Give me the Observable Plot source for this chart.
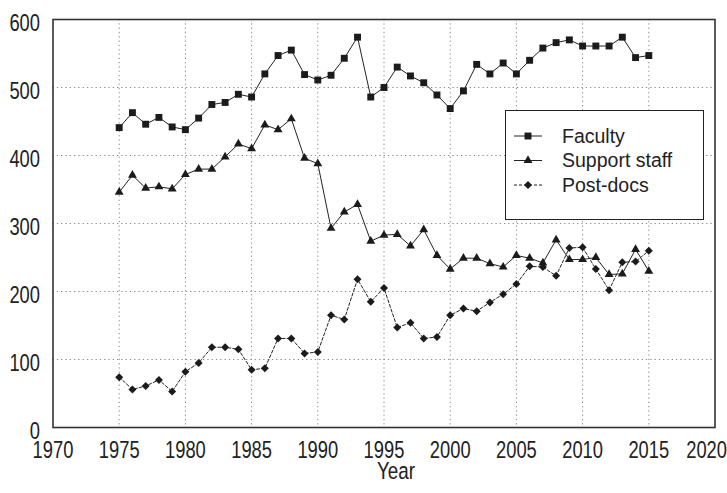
<!DOCTYPE html>
<html><head><meta charset="utf-8">
<script src="https://cdn.jsdelivr.net/npm/d3@7"></script>
<script src="https://cdn.jsdelivr.net/npm/@observablehq/plot@0.6"></script>
<style>
body{margin:0;background:#fff;}
#wrap{position:relative;width:727px;height:493px;}
#legend{position:absolute;left:505px;top:110px;width:197px;height:108px;border:1.5px solid #222;background:#fff;}
</style></head><body><div id="wrap"></div>
<script>
const years = [1975,1976,1977,1978,1979,1980,1981,1982,1983,1984,1985,1986,1987,1988,1989,1990,1991,1992,1993,1994,1995,1996,1997,1998,1999,2000,2001,2002,2003,2004,2005,2006,2007,2008,2009,2010,2011,2012,2013,2014,2015];
const faculty = [441,463,446,456,442,438,455,475,478,490,486,520,547,555,519,511,518,543,574,486,500,530,517,507,489,469,495,534,520,536,520,540,558,566,570,561,561,561,574,544,547];
const support = [346,371,352,354,351,372,380,380,398,417,410,445,438,454,396,388,293,317,328,274,283,284,267,291,253,233,249,249,241,236,253,249,242,276,247,247,250,225,226,262,230];
const postdocs = [74,56,61,70,53,82,95,118,118,115,85,87,131,131,109,111,165,159,218,185,205,147,154,131,133,165,175,171,184,196,211,237,236,223,264,265,233,202,243,244,260];
const seriesNames = ["Faculty","Support staff","Post-docs"];
const xTicks = [1970,1975,1980,1985,1990,1995,2000,2005,2010,2015,2020];
const yTicks = [0,100,200,300,400,500,600];

const seriesValues = [faculty, support, postdocs];
const symbols = ["square","triangle","diamond2"];
const radii = [3.9, 3.3, 3.6];
const dashes = [null, null, "3,2"];
const rows = seriesNames.flatMap((name, i) => years.map((year, j) => ({series: name, year, value: seriesValues[i][j]})));

const font = "'Liberation Sans',Arial,sans-serif";
const gridStyle = {stroke:"#8a8a8a", strokeOpacity:1, strokeWidth:1, strokeDasharray:"1.3,3"};

const marks = [
  Plot.gridX(xTicks.slice(1,-1), gridStyle),
  Plot.gridY(yTicks.slice(1,-1), gridStyle),
  Plot.axisX(xTicks, {tickSize:0, tickPadding:13, tickFormat:d=>String(d), label:null, fontSize:24.5}),
  Plot.axisY(yTicks, {tickSize:0, tickPadding:13, dy:4, label:null, fontSize:24.5}),
  Plot.text(["Year"], {frameAnchor:"bottom", dy:51, dx:12, fontSize:24.5, fill:"#222"}),
  Plot.frame({stroke:"#333", strokeWidth:1.6})
];
seriesNames.forEach((name, i) => {
  const d = rows.filter(r => r.series === name);
  marks.push(Plot.line(d, {x:"year", y:"value", stroke:"#222", strokeWidth:1, strokeDasharray:dashes[i]}));
  marks.push(Plot.dot(d, {x:"year", y:"value", symbol:()=>symbols[i], r:radii[i], fill:"#1b1b1b", stroke:"none"}));
});

const chart = Plot.plot({
  width:727, height:493,
  marginTop:19, marginBottom:66, marginLeft:52.5, marginRight:12.5,
  style:{fontFamily:font, fontSize:"24px", color:"#222", background:"#fff", overflow:"visible"},
  x:{domain:[1970,2020]},
  y:{domain:[0,600]},
  symbol:{type:"identity"},
  marks
});
// narrow (condensed) look of the original tick labels
chart.querySelectorAll("text").forEach(t => {
  const s = t.textContent;
  if (/^\d+$/.test(s)) {
    t.setAttribute("textLength", (s.length * 10.2).toFixed(1));
    t.setAttribute("lengthAdjust", "spacingAndGlyphs");
    if (s === String(xTicks[xTicks.length - 1])) {
      t.setAttribute("text-anchor", "end");
      t.setAttribute("dx", "12");
    }
  } else if (s === "Year") {
    t.setAttribute("textLength", "38");
    t.setAttribute("lengthAdjust", "spacingAndGlyphs");
  }
});
const wrap = document.getElementById("wrap");
wrap.appendChild(chart);

// Legend
const leg = document.createElement("div");
leg.id = "legend";
wrap.appendChild(leg);
const svg = d3.select(leg).append("svg").attr("width",197).attr("height",108);
const d3sym = {square:d3.symbolSquare, triangle:d3.symbolTriangle, diamond2:d3.symbolDiamond2};
seriesNames.forEach((name, i) => {
  const y = 25 + i*24.5;
  const g = svg.append("g").attr("transform",`translate(0,${y})`);
  g.append("line").attr("x1",8).attr("x2",36).attr("y1",0).attr("y2",0)
    .attr("stroke","#222").attr("stroke-width",1).attr("stroke-dasharray",dashes[i]);
  g.append("path").attr("transform","translate(22,0)")
    .attr("d", d3.symbol(d3sym[symbols[i]], Math.PI*radii[i]*radii[i])())
    .attr("fill","#1b1b1b");
  g.append("text").attr("x",56).attr("y",0).attr("dy","0.35em")
    .attr("font-family",font).attr("font-size",19.5).attr("fill","#222")
    .text(name);
});
</script></body></html>
